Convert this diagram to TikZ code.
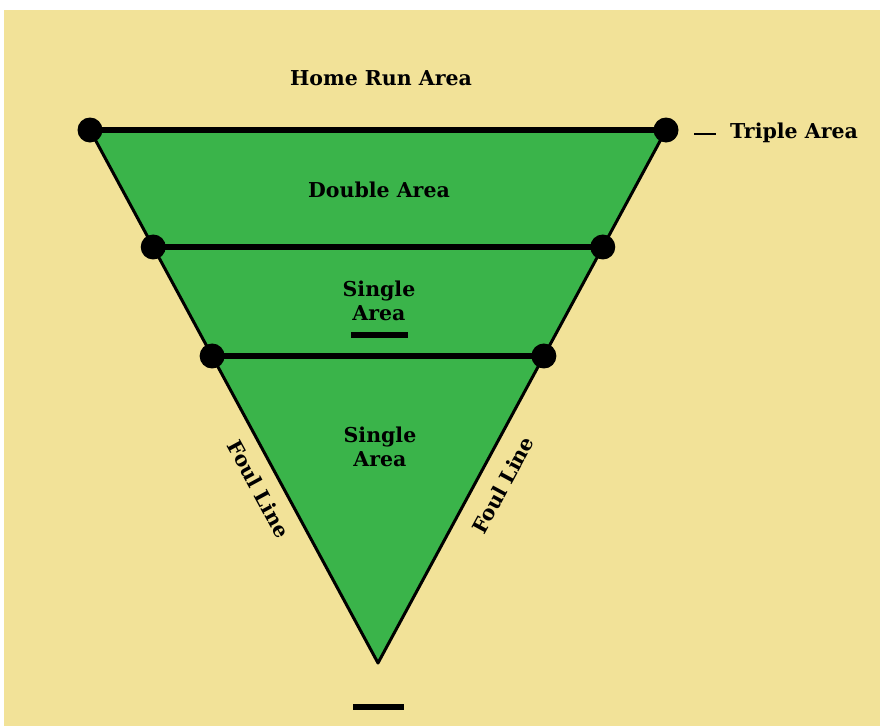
\documentclass[tikz,border=0pt]{standalone}
\usepackage{fontspec}
\setmainfont{DejaVu Serif}
\usepackage{xcolor}
\usetikzlibrary{positioning,calc}
\definecolor{fieldyellow}{RGB}{242,226,152}
\definecolor{fieldgreen}{RGB}{58,180,74}
\tikzset{
  basedot/.style={
    circle,
    fill=black,
    inner sep=0pt,
    minimum size=25pt
  },
  arealabel/.style={
    align=center,
    inner sep=0pt,
    font=\bfseries\fontsize{20.5}{24}\selectfont
  },
  crossline/.style={line width=6pt, black},
  foulline/.style={line width=3pt, black, line join=round},
  markbar/.style={line width=6pt, black}
}
\begin{document}
\begin{tikzpicture}[x=1pt,y=-1pt]
\useasboundingbox (0,0) rectangle (880,726);
\fill[fieldyellow] (4,10) rectangle (880,726);
\coordinate (tl) at (90,130);
\coordinate (tr) at (666,130);
\coordinate (apex) at (378,663);
\coordinate (ml) at ($(tl)!0.2195!(apex)$);
\coordinate (mr) at ($(tr)!0.2195!(apex)$);
\coordinate (ll) at ($(tl)!0.424!(apex)$);
\coordinate (lr) at ($(tr)!0.424!(apex)$);
\fill[fieldgreen] (tl) -- (tr) -- (apex) -- cycle;
\draw[foulline] (tl) -- (apex) -- (tr);
\draw[crossline] (tl) -- (tr);
\draw[crossline] (ml) -- (mr);
\draw[crossline] (ll) -- (lr);
\node[basedot] (tldot) at (tl) {};
\node[basedot] (trdot) at (tr) {};
\node[basedot] (mldot) at (ml) {};
\node[basedot] (mrdot) at (mr) {};
\node[basedot] (lldot) at (ll) {};
\node[basedot] (lrdot) at (lr) {};
% labels
\node[arealabel] (homerun) at (381,78) {Home Run Area};
\node[arealabel, anchor=west] (triple) at (730,133) {Triple Area};
\draw[line width=2.5pt] ([xshift=-36pt,yshift=-1pt]triple.west) -- ([xshift=-14pt,yshift=-1pt]triple.west);
\node[arealabel] (double) at (379,190) {Double Area};
\node[arealabel] (single1) at (379,301) {Single\\Area};
\draw[markbar] (351,335) -- (408,335);
\node[arealabel] (single2) at (380,447) {Single\\Area};
\node[arealabel, rotate=-61.6] (foulleft) at (259,489) {Foul Line};
\node[arealabel, rotate=61.6] (foulright) at (503,485) {Foul Line};
\draw[markbar] (353,707) -- (404,707);
\end{tikzpicture}
\end{document}
